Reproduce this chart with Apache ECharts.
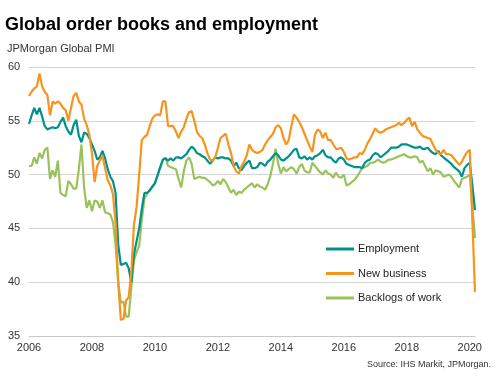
<!DOCTYPE html>
<html>
<head>
<meta charset="utf-8">
<script src="https://cdn.jsdelivr.net/npm/echarts@6/dist/echarts.min.js"></script>
<style>html,body{margin:0;padding:0;background:#fff}#c{width:503px;height:383px}</style>
</head>
<body>
<div id="c"></div>
<script>
// Monthly data, Jan 2006 .. Mar 2020
var years = [2006,2007,2008,2009,2010,2011,2012,2013,2014,2015,2016,2017,2018,2019,2020];
var monthsInLastYear = 3;
var tickYears = ['2006','2008','2010','2012','2014','2016','2018','2020'];
var yTicks = [35,40,45,50,55,60];

var employment = [
54.7,55.5,56.2,55.6,56.2,55.4,54.5,54.2,54.3,54.4,54.3,54.4,
54.9,55.3,54.5,54.0,53.7,54.6,55.1,53.6,53.0,53.9,53.8,53.4,
52.8,52.2,51.4,51.6,52.2,51.5,50.5,49.8,49.4,48.3,43.5,41.6,
41.7,41.8,41.3,40.0,42.6,43.8,45.0,46.8,48.3,48.3,48.5,48.9,
49.2,49.9,50.7,51.4,51.5,51.3,51.5,51.3,51.6,51.6,51.5,51.7,
51.9,52.3,52.6,52.4,52.0,51.9,51.7,51.6,51.3,51.0,51.3,51.6,
51.5,51.6,51.6,51.5,51.5,51.3,50.8,51.1,50.6,50.4,50.8,51.1,
51.3,50.6,50.6,50.7,51.1,51.0,50.8,51.2,51.4,51.7,52.0,51.8,
51.4,51.3,51.5,51.7,52.0,52.3,52.4,51.6,51.5,51.7,51.4,51.6,
51.4,51.7,51.8,52.0,52.3,51.8,51.6,51.6,51.3,51.1,51.5,51.6,
51.4,51.0,50.9,50.8,50.7,50.7,50.7,50.6,51.1,51.3,51.4,51.8,
52.0,51.9,51.6,51.8,52.0,52.2,52.5,52.5,52.5,52.6,52.8,52.8,
52.8,52.7,52.6,52.5,52.5,52.6,52.4,52.4,52.5,52.2,52.0,51.9,
52.2,51.8,51.6,51.4,51.2,51.0,50.7,50.5,50.3,49.8,50.6,50.9,
51.1,49.0,46.7
];

var newBusiness = [
57.3,57.7,58.0,58.2,59.4,58.2,57.7,57.4,55.5,56.8,56.6,56.8,
56.6,56.2,56.0,55.0,56.2,57.3,57.6,56.8,56.5,55.2,54.6,53.7,
52.0,49.3,50.8,51.3,51.8,50.6,49.5,49.0,48.2,45.5,40.0,36.5,
36.6,38.3,38.6,41.0,45.3,47.0,50.0,53.2,53.5,53.7,54.5,55.2,
55.5,55.6,55.5,56.8,56.8,54.5,54.5,54.5,54.0,53.4,54.0,54.4,
55.2,55.8,55.9,55.0,54.0,53.6,53.4,52.8,52.0,51.4,51.3,51.6,
52.5,53.4,53.6,53.8,52.8,52.0,50.8,50.3,50.1,50.8,51.2,51.8,
52.8,52.3,52.1,52.0,52.1,52.3,52.8,53.2,53.5,53.8,54.4,54.6,
54.3,53.4,52.8,53.2,54.5,55.6,55.3,54.9,54.4,53.8,53.2,52.6,
52.1,53.7,54.2,54.0,53.4,53.9,53.2,53.2,52.8,52.4,52.4,52.5,
52.1,51.5,51.4,51.5,51.6,51.6,52.0,51.9,52.3,52.9,53.3,53.8,
54.3,54.0,53.9,54.0,54.2,54.3,54.4,54.5,54.6,54.8,54.6,54.8,
55.1,55.3,54.5,54.9,54.2,53.9,53.6,53.5,53.4,53.3,52.8,52.3,
52.0,51.9,52.3,51.9,51.9,51.8,51.5,51.2,50.9,51.2,51.7,52.1,
52.3,45.7,39.1
];

var backlogs = [
50.8,50.8,51.6,51.0,52.0,51.5,52.3,52.5,49.6,50.4,49.8,51.3,
48.3,48.1,48.0,49.4,49.1,48.7,48.7,50.5,52.8,48.8,46.9,47.6,
46.6,47.6,47.5,46.9,47.6,46.5,46.4,46.3,45.6,43.5,40.0,38.1,
38.2,36.8,36.8,39.5,42.0,42.8,43.4,45.8,47.8,48.2,48.6,48.8,
49.2,50.0,50.6,51.3,51.6,50.8,50.7,50.6,50.5,49.6,48.8,50.3,
51.3,51.6,51.0,49.6,49.7,49.8,49.7,49.7,49.5,49.3,49.0,49.1,
49.4,49.1,49.6,49.3,48.8,48.3,48.6,48.1,48.4,48.3,48.6,48.8,
49.0,49.2,48.8,49.1,48.9,48.8,48.6,49.1,49.9,51.0,52.4,51.0,
50.1,50.7,50.3,50.5,50.7,50.5,50.1,50.7,51.0,50.4,50.2,50.2,
51.1,50.8,50.5,50.2,50.0,50.4,50.1,50.0,49.7,50.2,49.8,49.7,
50.0,49.0,49.1,49.3,49.5,49.8,50.2,50.6,50.7,50.8,51.1,51.1,
51.2,51.4,51.2,51.1,51.2,51.4,51.4,51.5,51.6,51.7,51.8,51.9,
51.7,51.6,51.6,51.7,51.6,51.1,51.3,50.8,50.3,50.6,50.0,50.4,
50.3,50.2,49.8,49.9,50.0,49.8,49.4,49.1,48.8,49.6,49.7,49.8,
50.0,47.0,44.1
];

var categories = [];
years.forEach(function (y, k) {
  var n = (k === years.length - 1) ? monthsInLastYear : 12;
  for (var m = 1; m <= n; m++) categories.push(y + '-' + (m < 10 ? '0' + m : m));
});

var FONT = 'Liberation Sans, Arial, sans-serif';
var chart = echarts.init(document.getElementById('c'), null, {renderer: 'canvas'});
chart.setOption({
  animation: false,
  backgroundColor: '#fff',
  title: [
    {text: 'Global order books and employment', left: 0, top: 11, padding: [5,5,5,5],
     textStyle: {fontFamily: FONT, fontSize: 18, fontWeight: 'bold', color: '#000'}},
    {text: 'JPMorgan Global PMI', left: 2, top: 38,
     textStyle: {fontFamily: FONT, fontSize: 11, fontWeight: 'normal', color: '#333'}},
    {text: 'Source: IHS Markit, JPMorgan.', right: 7, top: 355,
     textStyle: {fontFamily: FONT, fontSize: 9, fontWeight: 'normal', color: '#333'}}
  ],
  grid: {left: 29, right: 28, top: 67, bottom: 47, containLabel: false},
  legend: {
    orient: 'vertical', left: 321, top: 237, itemWidth: 28, itemHeight: 3, itemGap: 10.5,
    icon: 'rect',
    data: ['Employment', 'New business', 'Backlogs of work'],
    textStyle: {fontFamily: FONT, fontSize: 11, color: '#222', lineHeight: 14, padding: [0,0,0,-1]}
  },
  xAxis: {
    type: 'category', data: categories, boundaryGap: false,
    axisLine: {lineStyle: {color: '#c8c8c8', width: 1}},
    axisTick: {show: false},
    axisLabel: {
      interval: function (idx, val) { return tickYears.indexOf(val.slice(0,4)) >= 0 && val.slice(5) === '01'; },
      formatter: function (val) { return val.slice(0,4); },
      fontFamily: FONT, fontSize: 11, color: '#333', margin: 6
    },
    splitLine: {show: false}
  },
  yAxis: {
    type: 'value', min: yTicks[0], max: yTicks[yTicks.length-1], interval: 5,
    axisLine: {show: false}, axisTick: {show: false},
    axisLabel: {fontFamily: FONT, fontSize: 11, color: '#333', align: 'left', margin: 21},
    splitLine: {lineStyle: {color: '#d4d4d4', width: 1}}
  },
  series: [
    {name: 'Backlogs of work', type: 'line', data: backlogs, showSymbol: false, symbol: 'none',
     lineStyle: {width: 2.2, color: '#9bc25a'}, itemStyle: {color: '#9bc25a'}},
    {name: 'Employment', type: 'line', data: employment, showSymbol: false, symbol: 'none',
     lineStyle: {width: 2.2, color: '#00928a'}, itemStyle: {color: '#00928a'}},
    {name: 'New business', type: 'line', data: newBusiness, showSymbol: false, symbol: 'none',
     lineStyle: {width: 2.2, color: '#f7941d'}, itemStyle: {color: '#f7941d'}}
  ]
});
</script>
</body>
</html>
